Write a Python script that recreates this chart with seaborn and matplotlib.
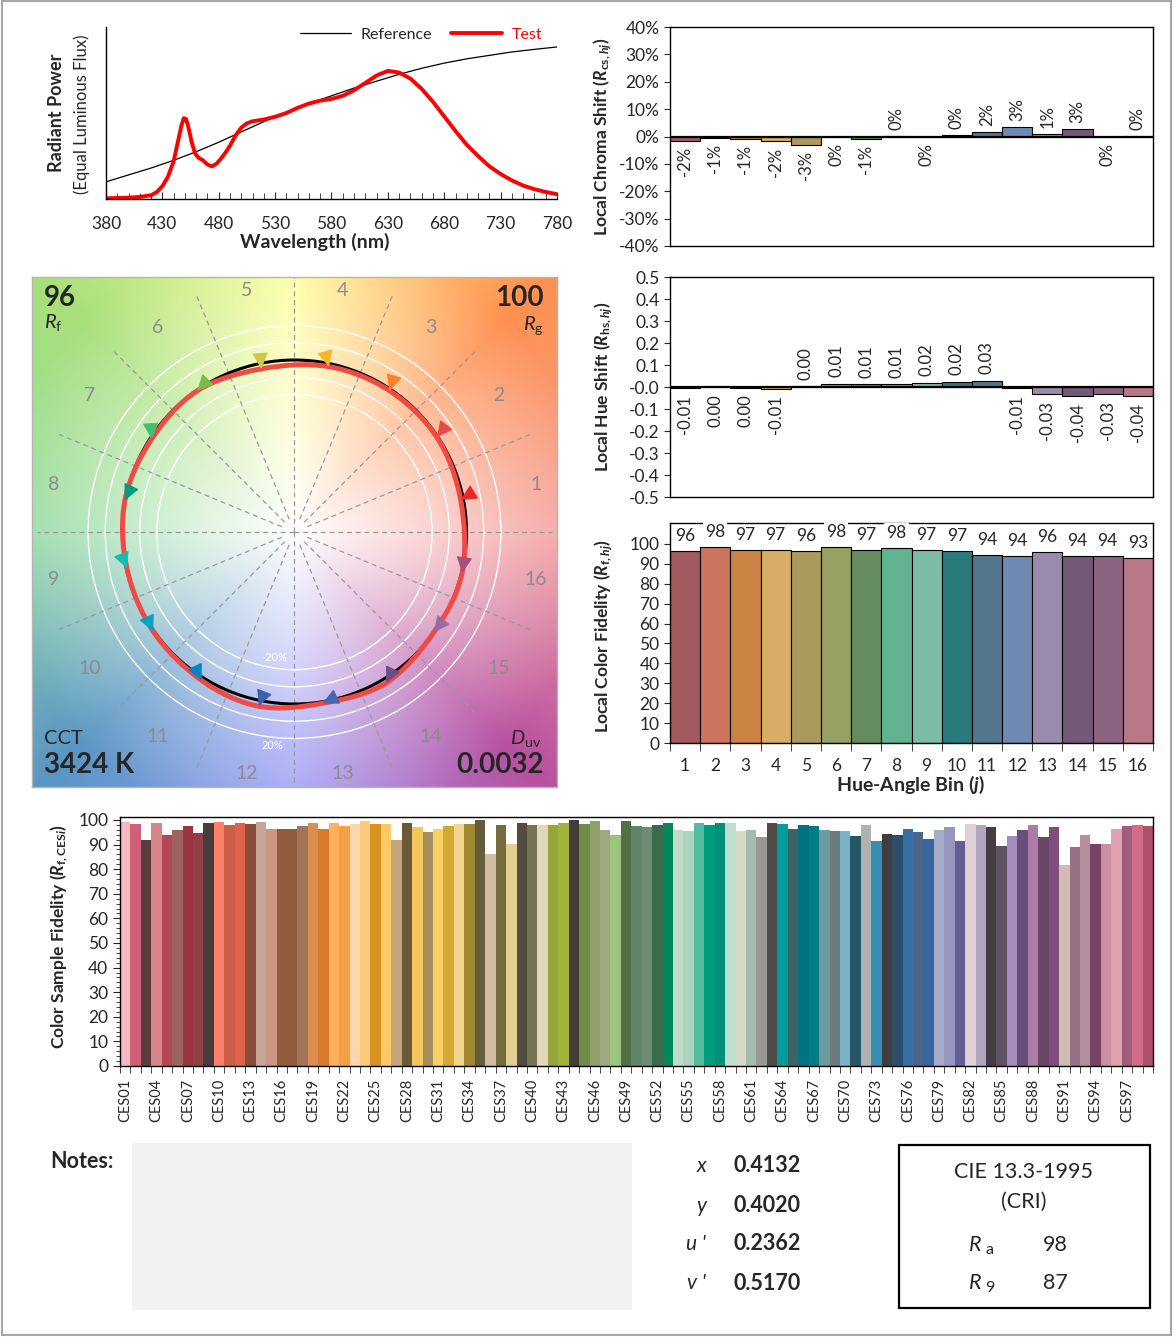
import numpy as np
import pandas as pd
import matplotlib
matplotlib.use("Agg")
import matplotlib.pyplot as plt
from matplotlib.path import Path
from matplotlib.patches import PathPatch, Circle, Rectangle
from matplotlib.ticker import MultipleLocator, FixedLocator
import seaborn as sns

# ---------------------------------------------------------------- datos
# Espectro (potencia radiante relativa)
wl_ref = [380, 400, 420, 440, 460, 480, 500, 520, 540, 560, 580, 600, 620, 640, 660, 680, 700, 720, 740, 760, 780]
spd_ref = [0.10, 0.14, 0.18, 0.225, 0.275, 0.33, 0.39, 0.45, 0.505, 0.555, 0.60, 0.645, 0.685, 0.725, 0.76, 0.79,
           0.815, 0.835, 0.855, 0.87, 0.884]
wl_test = [380, 390, 400, 410, 420, 425, 430, 435, 440, 444, 447, 449, 451, 453, 456, 459, 462, 466, 470, 474, 478,
           482, 486, 490, 495, 500, 505, 510, 520, 530, 540, 550, 560, 570, 580, 590, 600, 610, 620, 630, 640, 650,
           660, 670, 680, 690, 700, 710, 720, 730, 740, 750, 760, 770, 780]
spd_test = [0.004, 0.006, 0.008, 0.012, 0.022, 0.04, 0.075, 0.13, 0.22, 0.34, 0.43, 0.47, 0.465, 0.42, 0.33, 0.265,
            0.24, 0.225, 0.20, 0.19, 0.205, 0.235, 0.27, 0.31, 0.37, 0.415, 0.44, 0.452, 0.462, 0.478, 0.50, 0.53,
            0.555, 0.572, 0.582, 0.60, 0.632, 0.675, 0.718, 0.745, 0.735, 0.70, 0.64, 0.565, 0.48, 0.395, 0.315,
            0.25, 0.19, 0.145, 0.108, 0.078, 0.057, 0.041, 0.028]

# Bins de tono (16)
bins = [str(j) for j in range(1, 17)]
chroma_shift = [-1.6, -0.6, -1.0, -1.8, -3.2, -0.3, -0.9, 0.3, -0.3, 0.4, 1.8, 3.4, 0.9, 2.7, -0.2, 0.3]  # %
hue_shift = [-0.006, -0.002, -0.003, -0.009, 0.004, 0.014, 0.012, 0.012, 0.018, 0.023, 0.029, -0.006, -0.034,
             -0.043, -0.034, -0.043]
fidelity_bin = [96.3, 98.3, 97.0, 97.0, 96.3, 98.3, 97.0, 97.7, 97.0, 96.6, 94.4, 94.0, 95.8, 94.0, 94.0, 92.8]
bin_colors = ['#A35A5E', '#CB745E', '#CB8245', '#D8AD66', '#AB9A5E', '#95A062', '#658C60', '#60B290',
              '#7BBBA8', '#2A7A7C', '#52768C', '#6E8AB2', '#9A8AAC', '#745878', '#8C6480', '#B87888']
arrow_colors = ['#E62828', '#E74B4B', '#FB812E', '#FFB529', '#CBCA46', '#7EB94C', '#41C06D', '#009C7C',
                '#16BCB0', '#00A4BF', '#0085C3', '#3B62AA', '#4568AE', '#6A4E85', '#9D69A1', '#A74F81']

# Muestras CES (99)
ces_names = ['CES%02d' % i for i in range(1, 100)]
ces_fidelity = [99.3, 98.4, 91.8, 98.9, 93.9, 95.9, 97.6, 94.8, 98.9, 99.3, 98.0, 98.9, 98.4, 99.3, 96.3, 96.3,
                96.3, 97.6, 98.9, 96.3, 98.9, 97.6, 98.4, 99.6, 98.4, 98.4, 91.8, 98.6, 97.3, 95.1, 96.3, 97.6,
                98.4, 98.4, 100.0, 86.1, 98.0, 90.2, 98.6, 98.0, 98.0, 98.0, 98.6, 100.0, 98.4, 99.6, 95.9, 93.9,
                99.6, 97.6, 97.1, 98.0, 98.6, 95.9, 95.5, 98.6, 98.0, 98.6, 98.6, 95.5, 95.9, 93.1, 98.6, 98.4,
                96.3, 98.0, 97.6, 95.9, 95.5, 95.5, 93.5, 98.0, 91.4, 94.3, 93.9, 96.3, 95.1, 92.2, 95.9, 97.1,
                91.4, 98.4, 98.0, 97.1, 89.4, 93.5, 95.9, 98.0, 93.1, 97.1, 81.6, 89.0, 93.9, 90.2, 90.2, 96.3,
                97.6, 98.0, 97.6]
ces_colors = ['#F9B8BE', '#D0607A', '#5C3B3E', '#D6868A', '#B44756', '#9A635E', '#9A3440', '#923F45', '#463D3C',
              '#FF8068', '#CB5E47', '#E06249', '#874C3A', '#C5A597', '#CC9580', '#915B3E', '#915B3E', '#A07558',
              '#DC8D52', '#D97A2A', '#FDB15E', '#F89E44', '#FCD8AE', '#FDCA7A', '#D89422', '#FDC866', '#C3A67C',
              '#6B5A38', '#F6C65E', '#A68E5C', '#F9D064', '#D3A934', '#F3D590', '#A0862E', '#655D3A', '#CEBDA0',
              '#756D3E', '#E0CF90', '#504D3F', '#757350', '#E0D8B8', '#96A63A', '#A0B43C', '#403D3A', '#6E8C48',
              '#90A06A', '#9CAA7E', '#9CC47E', '#507044', '#608466', '#6C8C74', '#386C4A', '#00885A', '#C0DCC8',
              '#ACD4BE', '#50BE9E', '#009C7E', '#00907A', '#C0DECC', '#D8D8C8', '#A2BCAE', '#989A92', '#4E4C48',
              '#009C9C', '#3C6462', '#007480', '#007C84', '#6C9CA0', '#6C7A7E', '#7AB2CA', '#245666', '#B0B2B0',
              '#388EB6', '#3E3E3E', '#2C4E6A', '#3670A8', '#4C6486', '#36649E', '#A4ACC8', '#9696BE', '#625E92',
              '#DED0D6', '#B2A6BE', '#443E42', '#5E5264', '#A48CBE', '#684E7C', '#AC7CA6', '#6C4666', '#804E7C',
              '#D0BCB2', '#967284', '#B48E9A', '#784262', '#C890A2', '#E0A2B2', '#A05C78', '#D26A8A', '#B0506E']

# Valores de resumen
rf_val, rg_val, cct_val, duv_val = '96', '100', '3424 K', '0.0032'
coord_names = ['x', 'y', "u '", "v '"]
coord_vals = ['0.4132', '0.4020', '0.2362', '0.5170']
cri_ra, cri_r9 = '98', '87'

# ---------------------------------------------------------------- estilo
sns.set_style("white")
plt.rcParams['font.family'] = ['Lato', 'DejaVu Sans']
plt.rcParams['mathtext.fontset'] = 'custom'
plt.rcParams['mathtext.rm'] = 'Lato'
plt.rcParams['mathtext.it'] = 'Lato:italic'
plt.rcParams['mathtext.bf'] = 'Lato:bold:italic'
plt.rcParams['mathtext.sf'] = 'Lato:bold'
plt.rcParams['axes.linewidth'] = 1.0
plt.rcParams['axes.edgecolor'] = 'black'

W, H = 1176, 1337
fig = plt.figure(figsize=(W / 100, H / 100), dpi=100)


def caja(l, t, r, b):
    return [l / W, 1 - b / H, (r - l) / W, (b - t) / H]


def fx(px):
    return px / W


def fy(py):
    return 1 - py / H


# ---------------------------------------------------------------- 1. Espectro
ax1 = fig.add_axes(caja(106, 27, 557, 199))
sns.lineplot(x=wl_ref, y=spd_ref, color='black', lw=0.9, ax=ax1, label='Reference')
sns.lineplot(x=wl_test, y=spd_test, color='#FF0000', lw=2.8, ax=ax1, label='Test')
ax1.set_xlim(380, 780)
ax1.set_ylim(0, 1)
ax1.set_xticks(range(380, 781, 50))
ax1.xaxis.set_minor_locator(MultipleLocator(10))
ax1.tick_params(axis='x', which='major', direction='in', length=5, labelsize=12.5, pad=12)
ax1.tick_params(axis='x', which='minor', direction='in', length=4)
ax1.tick_params(axis='x', bottom=True, which='both')
ax1.set_yticks([])
ax1.spines['top'].set_visible(False)
ax1.spines['right'].set_visible(False)
ax1.set_xlabel('')
leg = ax1.legend(loc='upper right', bbox_to_anchor=(1.0, 1.08), ncol=2, frameon=False, fontsize=11.5,
                 handlelength=3.2, columnspacing=1.2, handletextpad=0.6)
leg.get_texts()[1].set_color('#FF0000')
fig.text(fx(315), fy(242), 'Wavelength (nm)', ha='center', va='center', fontsize=14, fontweight='bold')
fig.text(fx(57), fy(113), 'Radiant Power', rotation=90, ha='center', va='center', fontsize=13,
         fontweight='bold')
fig.text(fx(82), fy(114), '(Equal Luminous Flux)', rotation=90, ha='center', va='center', fontsize=12)

# ---------------------------------------------------------------- 2. Cambio de croma
df_bins = pd.DataFrame({'bin': bins, 'cs': chroma_shift, 'hs': hue_shift, 'rf': fidelity_bin})

ax2 = fig.add_axes(caja(670, 27, 1153, 246))
sns.barplot(data=df_bins, x='bin', y='cs', hue='bin', palette=bin_colors, legend=False, width=1,
            saturation=1, edgecolor='black', linewidth=0.8, ax=ax2)
ax2.set_ylim(-40, 40)
ax2.set_xlim(-0.5, 15.5)
ax2.set_yticks(range(-40, 41, 10))
ax2.set_yticklabels(['%d%%' % v for v in range(-40, 41, 10)])
ax2.set_xticks([])
ax2.tick_params(axis='y', left=True, length=4, labelsize=12.5)
ax2.axhline(0, color='black', lw=1.6, zorder=5)
ax2.set_xlabel('')
ax2.set_ylabel('')
for i, v in enumerate(chroma_shift):
    txt = '%d%%' % round(v)
    if v < 0:
        ax2.text(i, v - 2.2, txt, rotation=90, ha='center', va='top', fontsize=12)
    else:
        ax2.text(i, v + 2.2, txt, rotation=90, ha='center', va='bottom', fontsize=12)
fig.text(fx(603), fy(137), r'Local Chroma Shift ($\mathbf{R}_{\mathsf{cs,}\mathbf{hj}}$)', rotation=90,
         ha='center', va='center', fontsize=12.5, fontweight='bold')

# ---------------------------------------------------------------- 3. Cambio de tono
ax3 = fig.add_axes(caja(670, 277, 1153, 497))
sns.barplot(data=df_bins, x='bin', y='hs', hue='bin', palette=bin_colors, legend=False, width=1,
            saturation=1, edgecolor='black', linewidth=0.8, ax=ax3)
ax3.set_ylim(-0.5, 0.5)
ax3.set_xlim(-0.5, 15.5)
ticks_h = np.round(np.arange(-0.5, 0.51, 0.1), 1)
ax3.set_yticks(ticks_h)
ax3.set_yticklabels(['%.1f' % v for v in ticks_h])
ax3.set_xticks([])
ax3.tick_params(axis='y', left=True, length=4, labelsize=12.5)
ax3.axhline(0, color='black', lw=1.6, zorder=5)
ax3.set_xlabel('')
ax3.set_ylabel('')
for i, v in enumerate(hue_shift):
    txt = '%.2f' % v
    if txt == '-0.00':
        txt = '0.00'
    if v < 0:
        ax3.text(i, v - 0.03, txt, rotation=90, ha='center', va='top', fontsize=12)
    else:
        ax3.text(i, v + 0.03, txt, rotation=90, ha='center', va='bottom', fontsize=12)
fig.text(fx(604), fy(387), r'Local Hue Shift ($\mathbf{R}_{\mathsf{hs,}\mathbf{hj}}$)', rotation=90,
         ha='center', va='center', fontsize=12.5, fontweight='bold')

# ---------------------------------------------------------------- 4. Fidelidad por bin
ax4 = fig.add_axes(caja(670, 523, 1153, 743))
sns.barplot(data=df_bins, x='bin', y='rf', hue='bin', palette=bin_colors, legend=False, width=1,
            saturation=1, edgecolor='black', linewidth=0.8, ax=ax4)
ax4.set_ylim(0, 110.5)
ax4.set_xlim(-0.5, 15.5)
ax4.set_yticks(range(0, 101, 10))
ax4.tick_params(axis='y', left=True, length=4, labelsize=12.5)
ax4.set_xticks(range(16))
ax4.set_xticklabels(bins)
ax4.tick_params(axis='x', which='major', length=0, labelsize=12.5, pad=11)
ax4.xaxis.set_minor_locator(FixedLocator(np.arange(-0.5, 16, 1)))
ax4.tick_params(axis='x', which='minor', bottom=True, length=6, direction='out')
ax4.set_xlabel('')
ax4.set_ylabel('')
for i, v in enumerate(fidelity_bin):
    ax4.text(i, v + 7.6, '%d' % round(v), ha='center', va='center', fontsize=12.5, clip_on=False, zorder=6,
             bbox=dict(facecolor='white', edgecolor='none', pad=1.5))
fig.text(fx(604), fy(636), r'Local Color Fidelity ($\mathbf{R}_{\mathsf{f,}\mathbf{hj}}$)', rotation=90,
         ha='center', va='center', fontsize=12.5, fontweight='bold')
fig.text(fx(910), fy(785), r'Hue-Angle Bin ($\mathbf{j}$)', ha='center', va='center', fontsize=14,
         fontweight='bold')

# ---------------------------------------------------------------- 5. Grafico vectorial de color
ax5 = fig.add_axes(caja(32, 277, 557, 787))
xl, yl = 262.5 / 172, 255 / 172
ax5.set_xlim(-xl, xl)
ax5.set_ylim(-yl, yl)

# fondo degradado (decorativo)
ang_anchor = [0, 45, 90, 135, 180, 225, 270, 315, 360]
col_anchor = ['#F5A3A0', '#FF9050', '#FFFF9C', '#A8E07A', '#96DCA4', '#5A96C4', '#A0A0F8', '#B850A0', '#F5A3A0']
rgb_anchor = np.array([matplotlib.colors.to_rgb(c) for c in col_anchor])
gx, gy = np.meshgrid(np.linspace(-xl, xl, 400), np.linspace(-yl, yl, 400))
gang = np.degrees(np.arctan2(gy, gx)) % 360
grad = np.clip(np.hypot(gx, gy) / 1.75, 0, 1)[..., None]
base = np.stack([np.interp(gang, ang_anchor, rgb_anchor[:, k]) for k in range(3)], axis=-1)
img = (1 - grad) * 1.0 + grad * base
ax5.imshow(img, extent=[-xl, xl, -yl, yl], origin='lower', aspect='auto', zorder=0)

for rr in [0.8, 0.9, 1.1, 1.2]:
    ax5.add_patch(Circle((0, 0), rr, fill=False, ec='white', lw=1.0, zorder=1))
for k in range(16):
    a = np.radians(k * 22.5)
    r0 = 0.0 if k % 4 == 0 else 0.08
    ax5.plot([r0 * np.cos(a), 1.5 * np.cos(a)], [r0 * np.sin(a), 1.5 * np.sin(a)], color='#9A9A9A', lw=0.9,
             ls=(0, (4, 3)), zorder=1)
for j in range(16):
    a = np.radians((j + 0.5) * 22.5)
    ax5.text(1.43 * np.cos(a), 1.43 * np.sin(a), bins[j], color='#8C8C8C', fontsize=14, ha='center',
             va='center', zorder=2)
ax5.text(-0.12, -0.73, '-20%', color='white', fontsize=8, ha='center', va='center', zorder=2)
ax5.text(-0.13, -1.24, '20%', color='white', fontsize=8, ha='center', va='center', zorder=2)

ax5.add_patch(Circle((0, 0), 1.0, fill=False, ec='black', lw=2.2, zorder=3))

ang_r = np.radians((np.arange(16) + 0.5) * 22.5)
ang_t = ang_r + np.array(hue_shift)
rad_t = 1 + np.array(chroma_shift) / 100
pts = np.column_stack([rad_t * np.cos(ang_t), rad_t * np.sin(ang_t)])
# curva cerrada suavizada (Catmull-Rom -> Bezier)
verts = [pts[0]]
codes = [Path.MOVETO]
n = len(pts)
for i in range(n):
    p0, p1, p2, p3 = pts[i - 1], pts[i], pts[(i + 1) % n], pts[(i + 2) % n]
    verts += [p1 + (p2 - p0) / 6, p2 - (p3 - p1) / 6, p2]
    codes += [Path.CURVE4] * 3
ax5.add_patch(PathPatch(Path(verts, codes), fill=False, ec='#F04A44', lw=3.6, zorder=4))
for j in range(16):
    ref = (np.cos(ang_r[j]), np.sin(ang_r[j]))
    ax5.annotate('', xy=pts[j], xytext=ref, zorder=5,
                 arrowprops=dict(arrowstyle='-|>,head_length=0.7,head_width=0.35', color=arrow_colors[j],
                                 lw=1.0, shrinkA=0, shrinkB=0, mutation_scale=14))
ax5.set_xticks([])
ax5.set_yticks([])
for s in ax5.spines.values():
    s.set_color('#B4B4B4')

ax5.text(0.022, 0.958, rf_val, transform=ax5.transAxes, fontsize=20, fontweight='bold', ha='left', va='center')
ax5.text(0.022, 0.91, r'$R_\mathrm{f}$', transform=ax5.transAxes, fontsize=14.5, ha='left', va='center')
ax5.text(0.975, 0.958, rg_val, transform=ax5.transAxes, fontsize=20, fontweight='bold', ha='right', va='center')
ax5.text(0.975, 0.905, r'$R_\mathrm{g}$', transform=ax5.transAxes, fontsize=14.5, ha='right', va='center')
ax5.text(0.022, 0.096, 'CCT', transform=ax5.transAxes, fontsize=14.5, ha='left', va='center')
ax5.text(0.022, 0.043, cct_val, transform=ax5.transAxes, fontsize=20, fontweight='bold', ha='left', va='center')
ax5.text(0.97, 0.096, r'$D_\mathrm{uv}$', transform=ax5.transAxes, fontsize=14.5, ha='right', va='center')
ax5.text(0.975, 0.043, duv_val, transform=ax5.transAxes, fontsize=20, fontweight='bold', ha='right',
         va='center')

# ---------------------------------------------------------------- 6. Fidelidad por muestra CES
df_ces = pd.DataFrame({'ces': ces_names, 'rf': ces_fidelity})
ax6 = fig.add_axes(caja(120, 817, 1153, 1066))
sns.barplot(data=df_ces, x='ces', y='rf', hue='ces', palette=ces_colors, legend=False, width=1,
            saturation=1, linewidth=0, ax=ax6)
ax6.set_ylim(0, 101.2)
ax6.set_xlim(-0.5, 98.5)
ax6.set_yticks(range(0, 101, 10))
ax6.yaxis.set_minor_locator(MultipleLocator(2))
ax6.tick_params(axis='y', which='major', left=True, length=5, labelsize=12.5)
ax6.tick_params(axis='y', which='minor', left=True, length=3)
ax6.set_xticks(range(0, 99, 3))
ax6.set_xticklabels(ces_names[::3], rotation=90)
ax6.tick_params(axis='x', which='major', length=0, labelsize=10.5, pad=9)
ax6.xaxis.set_minor_locator(FixedLocator(np.arange(-0.5, 99, 1)))
ax6.tick_params(axis='x', which='minor', bottom=True, length=5, direction='out')
ax6.set_xlabel('')
ax6.set_ylabel('')
fig.text(fx(59), fy(937), r'Color Sample Fidelity ($\mathbf{R}_{\mathsf{f,CES}\mathbf{i}}$)', rotation=90,
         ha='center', va='center', fontsize=12.5, fontweight='bold')

# ---------------------------------------------------------------- 7. Notas y valores
fig.text(fx(50), fy(1161), 'Notes:', fontsize=15.5, fontweight='bold', ha='left', va='center')
fig.patches.append(Rectangle((fx(132), fy(1310)), fx(632) - fx(132), fy(1143) - fy(1310),
                             transform=fig.transFigure, facecolor='#F2F2F2', edgecolor='none'))
for k, (nm, val) in enumerate(zip(coord_names, coord_vals)):
    yy = [1166, 1206, 1244, 1283][k]
    fig.text(fx(706), fy(yy), nm, fontsize=15, style='italic', ha='right', va='center')
    fig.text(fx(734), fy(yy), val, fontsize=15.5, fontweight='bold', ha='left', va='center')

fig.patches.append(Rectangle((fx(899), fy(1308)), fx(1150) - fx(899), fy(1145) - fy(1308),
                             transform=fig.transFigure, facecolor='none', edgecolor='black', lw=1.6))
fig.text(fx(1024), fy(1172), 'CIE 13.3-1995', fontsize=15.5, ha='center', va='center')
fig.text(fx(1024), fy(1202), '(CRI)', fontsize=15.5, ha='center', va='center')
fig.text(fx(968), fy(1245), r'$R$', fontsize=15.5, ha='left', va='center')
fig.text(fx(985), fy(1250), 'a', fontsize=11.5, ha='left', va='center')
fig.text(fx(1055), fy(1245), cri_ra, fontsize=15.5, ha='center', va='center')
fig.text(fx(968), fy(1283), r'$R$', fontsize=15.5, ha='left', va='center')
fig.text(fx(985), fy(1288), '9', fontsize=11.5, ha='left', va='center')
fig.text(fx(1055), fy(1283), cri_r9, fontsize=15.5, ha='center', va='center')

# marco exterior
fig.patches.append(Rectangle((fx(2), fy(1335)), fx(1171) - fx(2), fy(1) - fy(1335),
                             transform=fig.transFigure, facecolor='none', edgecolor='#A6A6A6', lw=1.5))

fig.savefig('out.png', dpi=100)
